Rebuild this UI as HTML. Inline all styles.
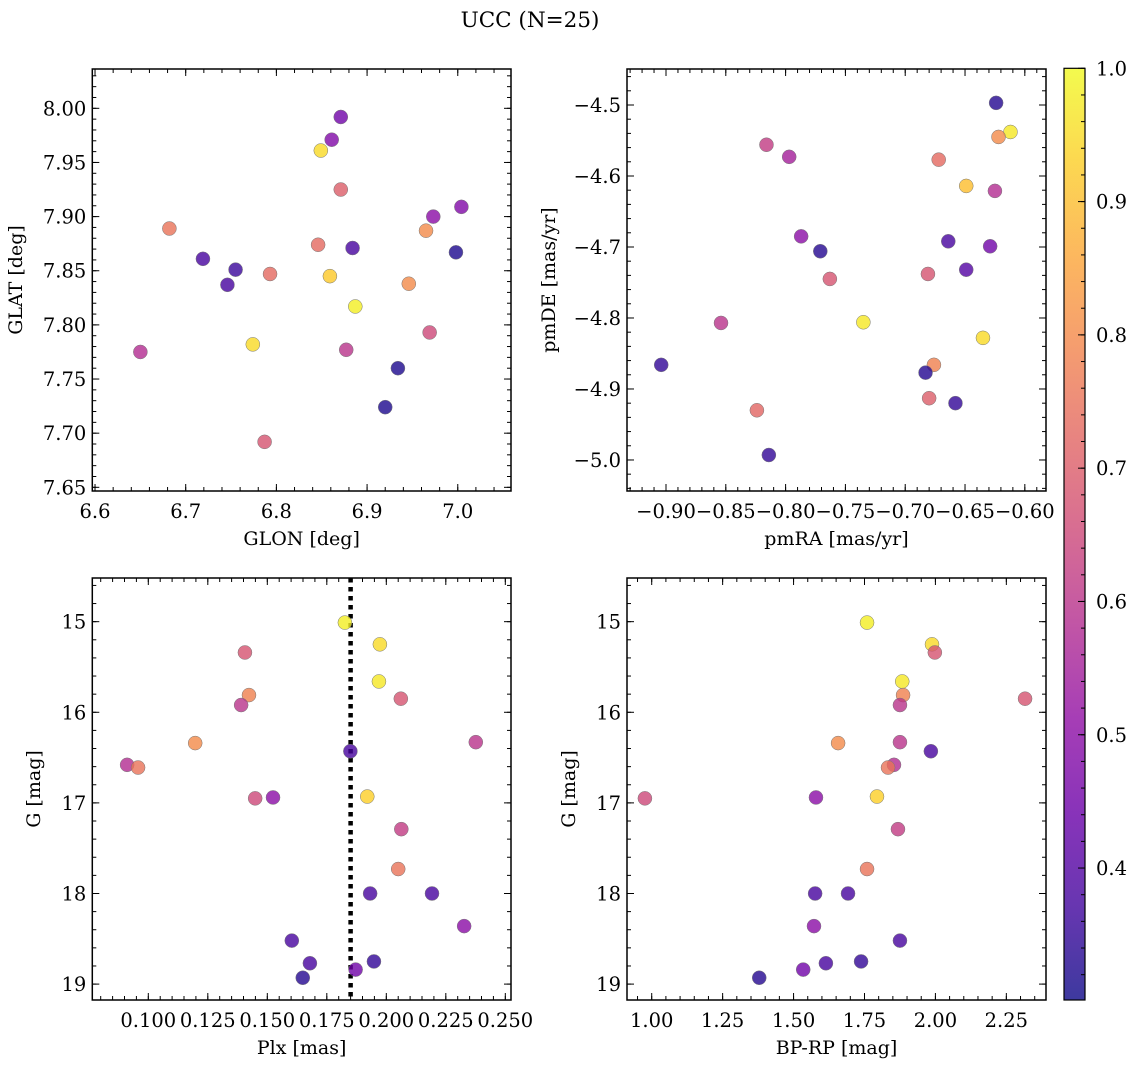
<!DOCTYPE html>
<html><head><meta charset="utf-8"><style>
html,body{margin:0;padding:0;background:#fff;}
svg{display:block;font-family:"DejaVu Serif","Liberation Serif",serif;}
</style></head><body>
<svg id="chart" width="1136" height="1068" viewBox="0 0 1136 1068" xmlns="http://www.w3.org/2000/svg">
<defs><linearGradient id="cbgrad" x1="0" y1="1" x2="0" y2="0"></linearGradient></defs>
<text x="530" y="27" font-size="21.5" text-anchor="middle">UCC (N=25)</text>
</svg>
<script>
// ---- data ----
const glon = [6.871,6.861,6.849,6.871,6.973,7.004,6.682,6.965,6.846,6.884,6.719,6.998,6.755,6.793,6.859,6.746,6.946,6.887,6.774,6.969,6.650,6.877,6.934,6.920,6.787];
const glat = [7.992,7.971,7.961,7.925,7.900,7.909,7.889,7.887,7.874,7.871,7.861,7.867,7.851,7.847,7.845,7.837,7.838,7.817,7.782,7.793,7.775,7.777,7.760,7.724,7.692];
const probA = [0.45,0.48,0.95,0.70,0.50,0.48,0.75,0.80,0.73,0.38,0.38,0.32,0.36,0.73,0.92,0.38,0.80,0.98,0.95,0.65,0.58,0.60,0.32,0.32,0.68];

const pmra = [-0.624,-0.612,-0.622,-0.816,-0.797,-0.672,-0.649,-0.625,-0.787,-0.664,-0.771,-0.629,-0.649,-0.763,-0.681,-0.735,-0.635,-0.854,-0.904,-0.676,-0.683,-0.680,-0.658,-0.824,-0.814];
const pmde = [-4.497,-4.538,-4.545,-4.556,-4.573,-4.577,-4.614,-4.621,-4.685,-4.692,-4.706,-4.699,-4.732,-4.745,-4.738,-4.806,-4.828,-4.807,-4.866,-4.866,-4.877,-4.913,-4.920,-4.930,-4.993];
const probB = [0.33,0.97,0.80,0.62,0.55,0.73,0.90,0.58,0.50,0.38,0.33,0.45,0.40,0.68,0.68,0.97,0.95,0.60,0.35,0.78,0.33,0.70,0.35,0.72,0.35];

const plx = [0.1826,0.1973,0.1406,0.1969,0.1423,0.2061,0.1390,0.1197,0.2376,0.1849,0.0911,0.0957,0.1449,0.1524,0.1920,0.2063,0.2050,0.1932,0.2192,0.2327,0.1603,0.1679,0.1948,0.1649,0.1871];
const gmag = [15.01,15.25,15.34,15.66,15.81,15.85,15.92,16.34,16.33,16.43,16.58,16.61,16.95,16.94,16.93,17.29,17.73,18.00,18.00,18.36,18.52,18.77,18.75,18.93,18.84];
const bprp = [1.759,1.988,1.998,1.883,1.886,2.316,1.875,1.657,1.875,1.984,1.854,1.833,0.976,1.579,1.794,1.868,1.759,1.576,1.692,1.572,1.875,1.614,1.738,1.379,1.534];
const probC = [0.98,0.95,0.68,0.97,0.78,0.68,0.60,0.80,0.60,0.38,0.58,0.75,0.65,0.50,0.93,0.62,0.75,0.38,0.38,0.50,0.38,0.38,0.35,0.33,0.45];
const plxLine = [0.185];

const ticksA_x = [6.6,6.7,6.8,6.9,7.0], ticksA_y = [7.65,7.70,7.75,7.80,7.85,7.90,7.95,8.00];
const ticksB_x = [-0.90,-0.85,-0.80,-0.75,-0.70,-0.65,-0.60], ticksB_y = [-5.0,-4.9,-4.8,-4.7,-4.6,-4.5];
const ticksC_x = [0.100,0.125,0.150,0.175,0.200,0.225,0.250], ticksG = [15,16,17,18,19];
const ticksD_x = [1.00,1.25,1.50,1.75,2.00,2.25];
const cbTicks = [0.4,0.5,0.6,0.7,0.8,0.9,1.0];
const vmin = 0.301, vmax = 1.0;

// ---- helpers ----
const NS = "http://www.w3.org/2000/svg";
const svg = document.getElementById('chart');
function mk(tag, attrs, parent){ const e=document.createElementNS(NS,tag); for(const k in attrs) e.setAttribute(k,attrs[k]); (parent||svg).appendChild(e); return e; }
const stops = ['#0d0887','#41049d','#6a00a8','#8f0da4','#b12a90','#cc4778','#e16462','#f2844b','#fca636','#fcce25','#f0f921'];
function hex(h){return [parseInt(h.slice(1,3),16),parseInt(h.slice(3,5),16),parseInt(h.slice(5,7),16)];}
function plasma(t){ t=Math.max(0,Math.min(1,t)); const f=t*10, i=Math.min(9,Math.floor(f)), r=f-i; const a=hex(stops[i]), b=hex(stops[i+1]);
  return 'rgb('+a.map((v,k)=>Math.round(v+(b[k]-v)*r)).join(',')+')'; }
function cmap(p){ return plasma((p-vmin)/(vmax-vmin)); }
function fmtMinus(s){ return s.replace('-','\u2212'); }
const TF = 19.5, LF = 19;

function panel(cfg){
  const g = mk('g',{});
  
  
  const sx = v => cfg.px0 + (v-cfg.xmin)/(cfg.xmax-cfg.xmin)*(cfg.px1-cfg.px0);
  const sy = v => cfg.inv ? cfg.py0 + (v-cfg.ymin)/(cfg.ymax-cfg.ymin)*(cfg.py1-cfg.py0)
                          : cfg.py1 - (v-cfg.ymin)/(cfg.ymax-cfg.ymin)*(cfg.py1-cfg.py0);
  const mk_tick=(x1,y1,x2,y2)=>mk('line',{x1,y1,x2,y2,stroke:'#000','stroke-width':1},g);
  let start=Math.ceil(cfg.xmin/cfg.xminor-1e-9);
  for(let k=start; k*cfg.xminor<=cfg.xmax+1e-9; k++){ const x=sx(k*cfg.xminor); mk_tick(x,cfg.py1,x,cfg.py1-4); mk_tick(x,cfg.py0,x,cfg.py0+4); }
  const ylo=Math.min(cfg.ymin,cfg.ymax), yhi=Math.max(cfg.ymin,cfg.ymax);
  start=Math.ceil(ylo/cfg.yminor-1e-9);
  for(let k=start; k*cfg.yminor<=yhi+1e-9; k++){ const y=sy(k*cfg.yminor); mk_tick(cfg.px0,y,cfg.px0+4,y); mk_tick(cfg.px1,y,cfg.px1-4,y); }
  cfg.xt.forEach((v,i)=>{ const x=sx(v); mk_tick(x,cfg.py1,x,cfg.py1-7); mk_tick(x,cfg.py0,x,cfg.py0+7);
    const t=mk('text',{x:x,y:cfg.py1+27,'font-size':TF,'text-anchor':'middle'},g); t.textContent=fmtMinus(cfg.xl[i]);
      });
  cfg.yt.forEach((v,i)=>{ const y=sy(v); mk_tick(cfg.px0,y,cfg.px0+7,y); mk_tick(cfg.px1,y,cfg.px1-7,y);
    const t=mk('text',{x:cfg.px0-6,y:y+7,'font-size':TF,'text-anchor':'end'},g); t.textContent=fmtMinus(cfg.yl[i]);
      });
  if(cfg.vline){ cfg.vline.forEach(v=>{ const l=mk('line',{x1:sx(v),x2:sx(v),y1:cfg.py0,y2:cfg.py1,stroke:'#000','stroke-width':4.5,'stroke-dasharray':'4.5 4.5'},g);
      }); }
  cfg.xs.forEach((v,i)=>{ const c=mk('circle',{cx:sx(v),cy:sy(cfg.ys[i]),r:7,fill:cmap(cfg.ps[i]),'fill-opacity':0.8,stroke:'#777','stroke-width':0.5},g);
      });
  const fr=mk('rect',{x:cfg.px0,y:cfg.py0,width:cfg.px1-cfg.px0,height:cfg.py1-cfg.py0,fill:'none',stroke:'#000','stroke-width':1.5},g);
   
  const xl=mk('text',{x:(cfg.px0+cfg.px1)/2,y:cfg.py1+54,'font-size':LF,'text-anchor':'middle'},g); xl.textContent=cfg.xlabel;
   
  const cy=(cfg.py0+cfg.py1)/2;
  const yl=mk('text',{x:cfg.ylx,y:cy,'font-size':LF,'text-anchor':'middle',transform:'rotate(-90 '+cfg.ylx+' '+cy+')'},g); yl.textContent=cfg.ylabel;
   
}

panel({name:'glon-glat-panel',px0:92.3,px1:511,py0:69,py1:491,xmin:6.597,xmax:7.0587,ymin:7.6466,ymax:8.0363,
  xminor:0.02,yminor:0.01,xt:ticksA_x,xl:ticksA_x.map(v=>v.toFixed(1)),yt:ticksA_y,yl:ticksA_y.map(v=>v.toFixed(2)),
  xs:glon,ys:glat,ps:probA,xlabel:'GLON [deg]',ylabel:'GLAT [deg]',ylx:22});
panel({name:'pm-panel',px0:627,px1:1046,py0:69,py1:491,xmin:-0.9326,xmax:-0.5823,ymin:-5.0437,ymax:-4.4493,
  xminor:0.01,yminor:0.02,xt:ticksB_x,xl:ticksB_x.map(v=>v.toFixed(2)),yt:ticksB_y,yl:ticksB_y.map(v=>v.toFixed(1)),
  xs:pmra,ys:pmde,ps:probB,xlabel:'pmRA [mas/yr]',ylabel:'pmDE [mas/yr]',ylx:555});
panel({name:'plx-g-panel',px0:92.3,px1:511,py0:578,py1:1000,xmin:0.07647,xmax:0.25239,ymin:14.518,ymax:19.1755,inv:true,
  xminor:0.005,yminor:0.2,xt:ticksC_x,xl:ticksC_x.map(v=>v.toFixed(3)),yt:ticksG,yl:ticksG.map(v=>String(v)),
  xs:plx,ys:gmag,ps:probC,xlabel:'Plx [mas]',ylabel:'G [mag]',ylx:40,vline:plxLine});
panel({name:'cmd-panel',px0:627,px1:1046,py0:578,py1:1000,xmin:0.9129,xmax:2.3898,ymin:14.518,ymax:19.1755,inv:true,
  xminor:0.05,yminor:0.2,xt:ticksD_x,xl:ticksD_x.map(v=>v.toFixed(2)),yt:ticksG,yl:ticksG.map(v=>String(v)),
  xs:bprp,ys:gmag,ps:probC,xlabel:'BP-RP [mag]',ylabel:'G [mag]',ylx:575});

// colorbar
const grad=document.getElementById('cbgrad');
for(let i=0;i<=20;i++){ mk('stop',{offset:(i/20),'stop-color':plasma(i/20)},grad); }
const cbg=mk('g',{});


const cb0=68.3, cb1=1000, cbx0=1064, cbx1=1085;
mk('rect',{x:cbx0,y:cb0,width:cbx1-cbx0,height:cb1-cb0,fill:'url(#cbgrad)','fill-opacity':0.8},cbg);
const cby=v=>cb1-(v-vmin)/(vmax-vmin)*(cb1-cb0);
for(let k=16;k<=50;k++){ const v=k*0.02; if(v<vmin||v>vmax+1e-9) continue; const y=cby(v); mk('line',{x1:cbx1,x2:cbx1-4,y1:y,y2:y,stroke:'#000','stroke-width':1},cbg); }
cbTicks.forEach(v=>{ const y=cby(v); mk('line',{x1:cbx1,x2:cbx1-7,y1:y,y2:y,stroke:'#000','stroke-width':1},cbg);
  const t=mk('text',{x:cbx1+11,y:y+7,'font-size':TF},cbg); t.textContent=v.toFixed(1);
    });
mk('rect',{x:cbx0,y:cb0,width:cbx1-cbx0,height:cb1-cb0,fill:'none',stroke:'#000','stroke-width':1.2},cbg);
</script>
</body></html>
